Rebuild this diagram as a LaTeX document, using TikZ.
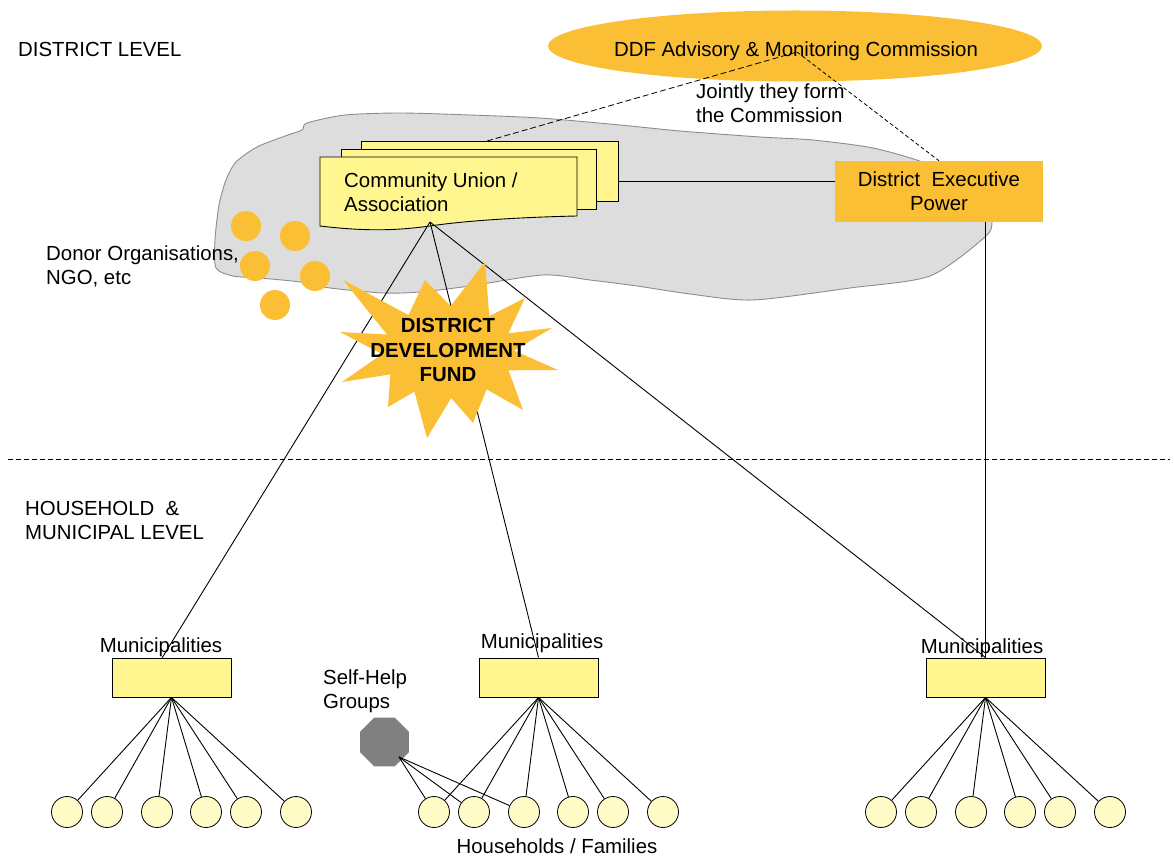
\documentclass[tikz,border=0pt]{standalone}
\usepackage{fontspec}
\setmainfont{Liberation Sans}
\usetikzlibrary{shapes.geometric,calc}
\definecolor{ddforange}{HTML}{FBBF36}
\definecolor{boxyellow}{HTML}{FFF68F}
\definecolor{hhyellow}{HTML}{FFFBC6}
\definecolor{cloudfill}{HTML}{DDDDDD}
\definecolor{cloudline}{HTML}{8C8C8C}
\definecolor{shgray}{HTML}{808080}
\begin{document}
\begin{tikzpicture}[x=1pt,y=-1pt,
  font=\fontsize{20.4}{24}\selectfont,
  conn/.style={draw=black,line width=0.9pt},
  docbox/.style={draw=black,fill=boxyellow,line width=0.9pt},
  munibox/.style={draw=black,fill=boxyellow,line width=0.9pt,minimum width=119pt,minimum height=39pt,inner sep=0pt},
  hh/.style={circle,draw=black,fill=hhyellow,line width=0.8pt,minimum size=31pt,inner sep=0pt},
  donordot/.style={circle,fill=ddforange,minimum size=30pt,inner sep=0pt},
  txt/.style={inner sep=0pt}]
\useasboundingbox (0,0) rectangle (1174,858);

% grey cloud
\draw[draw=cloudline,fill=cloudfill,line width=0.9pt] plot[smooth cycle,tension=0.45] coordinates {
 (307,123) (345,115) (400,113) (470,115) (540,118) (620,125) (680,131) (760,137) (813,140)
 (873,148) (925,163) (965,185) (988,205) (992,222) (985,237) (930,276) (850,288) (753,300)
 (690,294) (637,286) (590,280) (543,275) (470,286) (420,292) (383,293) (330,288) (300,282)
 (260,278) (233,276) (216,268) (215,240) (219,205) (226,180) (236,162) (257,147) (285,136) (302,130)};

% donor dots
\node[donordot] (d1) at (246,226) {};
\node[donordot] (d2) at (295,236) {};
\node[donordot] (d3) at (255,266) {};
\node[donordot] (d4) at (315,276) {};
\node[donordot] (d5) at (275,305) {};
\node[txt,anchor=north west,align=left] (donor) at (46,245.5) {Donor Organisations,\\NGO, etc};

% community union document stack
\draw[docbox] (361,141) rectangle (618,201);
\draw[docbox] (341,149) rectangle (596,209);
\draw[docbox] (320,157) -- (577,157) -- (577,216)
  .. controls (530,217) and (470,220) .. (430,226)
  .. controls (400,230) and (370,232) .. (320,226) -- cycle;
\node[txt,anchor=north west,align=left] (cu) at (344,172.5) {Community Union /\\Association};
\coordinate (docpt) at (430,222);
\coordinate (doctop) at (487,141);
\coordinate (docright) at (618,181);

% DDF commission ellipse
\node[ellipse,fill=ddforange,minimum width=494pt,minimum height=71pt,inner sep=0pt] (ddf) at (795,46) {};
\node[txt,anchor=base] (ddftext) at (796,57) {DDF Advisory \& Monitoring Commission};
\coordinate (cm) at (797,52);
\node[txt,anchor=north west,align=left] (jointly) at (696,83.5) {Jointly they form\\the Commission};

% district executive power
\node[fill=ddforange,minimum width=208pt,minimum height=61pt,inner sep=0pt,align=center] (dep) at (939,191.5) {District\ \ Executive\\Power};

\node[txt,anchor=base west] (distlevel) at (18,57) {DISTRICT LEVEL};

% dashed commission lines
\draw[black,line width=0.8pt,dash pattern=on 6pt off 3pt] (doctop) -- (cm);
\draw[black,line width=0.8pt,dash pattern=on 4pt off 2.5pt] (cm) -- (dep.north);

% CU - DEP link
\draw[conn] (docright) -- (docright -| dep.west);

% municipalities
\node[munibox] (m1) at (171.5,677.5) {};
\node[munibox] (m2) at (538.5,677.5) {};
\node[munibox] (m3) at (985.5,677.5) {};
\node[txt,anchor=base] (m1l) at (161,652) {Municipalities};
\node[txt,anchor=base] (m2l) at (542,648) {Municipalities};
\node[txt,anchor=base] (m3l) at (982,653) {Municipalities};
\coordinate (m1top) at (162,658);

% connectors from community union
\draw[conn] (docpt) -- (m1top);
\draw[conn] (docpt) -- (m2.north);
\draw[conn] (docpt) -- (m3.north);
\draw[conn] (m3.north |- dep.south) -- (m3.north);

% district development fund star
\fill[ddforange] (343,280) -- (408.5,315.1) -- (425,280) -- (450.6,306.0) -- (485,262) -- (489.3,316.1)
 -- (525,298) -- (508.3,333.3) -- (552,328) -- (513.9,350.5) -- (558,370) -- (508.5,370.3)
 -- (523,410) -- (486.6,389.3) -- (473,423) -- (451.2,398) -- (427,438) -- (414.4,391.6)
 -- (388,407) -- (390.3,374.4) -- (342,382) -- (382.1,354.1) -- (340,332) -- (387,334.5) -- cycle;
\node[txt,anchor=north,align=center,font=\fontsize{20.4}{24.5}\selectfont\bfseries] (ddfund) at (448,318.5) {DISTRICT\\DEVELOPMENT\\FUND};

% level divider
\coordinate (divl) at (8,459);
\coordinate (divr) at (1170,459);
\draw[black,line width=0.8pt,dash pattern=on 5pt off 3pt] (divl) -- (divr);
\node[txt,anchor=north west,align=left] (hhlevel) at (25,501.5) {HOUSEHOLD\ \ \&\\MUNICIPAL LEVEL};

% households
\foreach \n/\x in {1/67,2/107,3/157,4/206,5/246,6/296}{
  \node[hh] (hl\n) at (\x,812) {};
  \draw[conn] (m1.south) -- (hl\n);
}
\foreach \n/\x in {1/434,2/474,3/524,4/573,5/613,6/663}{
  \node[hh] (hm\n) at (\x,812) {};
  \draw[conn] (m2.south) -- (hm\n);
}
\foreach \n/\x in {1/881,2/921,3/971,4/1020,5/1060,6/1110}{
  \node[hh] (hr\n) at (\x,812) {};
  \draw[conn] (m3.south) -- (hr\n);
}

% self-help groups
\node[regular polygon,regular polygon sides=8,fill=shgray,minimum size=53pt,inner sep=0pt] (shg) at (384.5,742) {};
\coordinate (shgpt) at (399,757);
\draw[conn] (shgpt) -- (hm1);
\draw[conn] (shgpt) -- (hm2);
\draw[conn] (shgpt) -- (hm3);
\node[txt,anchor=north west,align=left] (shgl) at (323,669.5) {Self-Help\\Groups};

\node[txt,anchor=base] (hhl) at (557,853) {Households / Families};
\end{tikzpicture}
\end{document}
